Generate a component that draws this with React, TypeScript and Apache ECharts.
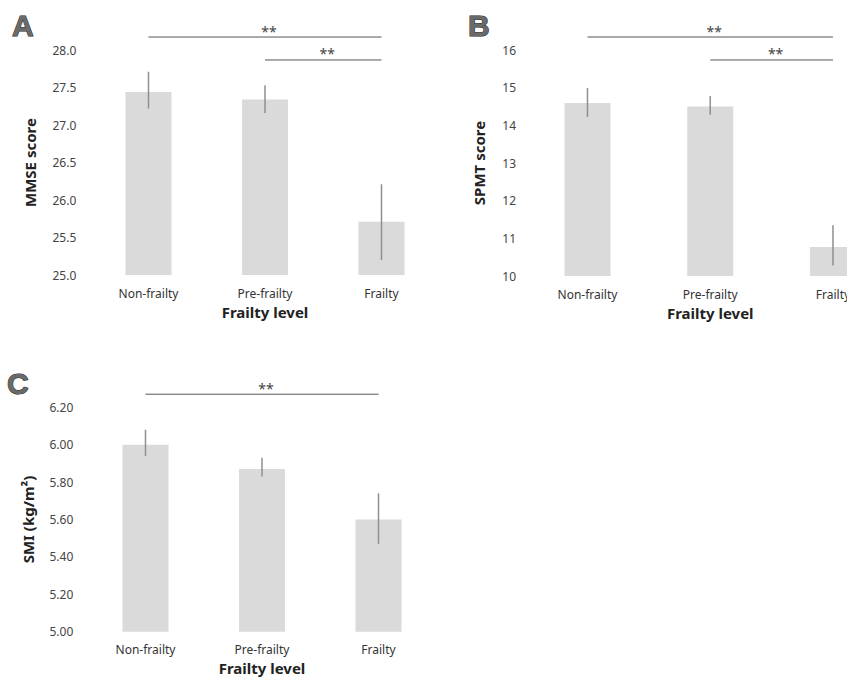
import React, { useEffect, useRef } from "react";
import * as echarts from "echarts";

const categories = ["Non-frailty", "Pre-frailty", "Frailty"];

const mmseMean = [27.44, 27.34, 25.71];
const mmseLow = [27.22, 27.16, 25.2];
const mmseHigh = [27.71, 27.53, 26.21];

const spmtMean = [14.59, 14.5, 10.77];
const spmtLow = [14.22, 14.28, 10.28];
const spmtHigh = [14.99, 14.78, 11.35];

const smiMean = [6.0, 5.87, 5.6];
const smiLow = [5.94, 5.83, 5.47];
const smiHigh = [6.08, 5.93, 5.74];

// significance brackets: [fromCategoryIndex, toCategoryIndex, yLevel]
const mmseSig = [
  [0, 2, 28.173],
  [1, 2, 27.867],
];
const spmtSig = [
  [0, 2, 16.345],
  [1, 2, 15.735],
];
const smiSig = [[0, 2, 6.27]];

const panelLetters = ["A", "B", "C"];
const yNames = ["MMSE score", "SPMT score", "SMI (kg/m\u00B2)"];
const xName = "Frailty level";

const SANS = "'Noto Sans', 'Open Sans', sans-serif";

function errorSeries(idx: number, low: number[], high: number[]) {
  return {
    type: "custom",
    xAxisIndex: idx,
    yAxisIndex: idx,
    silent: true,
    z: 5,
    data: low.map((l, i) => [i, l, high[i]]),
    renderItem: (_p: any, api: any) => {
      const a = api.coord([api.value(0), api.value(1)]);
      const b = api.coord([api.value(0), api.value(2)]);
      return {
        type: "line",
        shape: { x1: a[0], y1: a[1], x2: b[0], y2: b[1] },
        style: { stroke: "#8f8f8f", lineWidth: 1.5 },
      };
    },
  };
}

function sigSeries(idx: number, sig: number[][]) {
  return {
    type: "custom",
    xAxisIndex: idx,
    yAxisIndex: idx,
    silent: true,
    clip: false,
    z: 6,
    data: sig,
    renderItem: (_p: any, api: any) => {
      const a = api.coord([api.value(0), api.value(2)]);
      const b = api.coord([api.value(1), api.value(2)]);
      return {
        type: "group",
        children: [
          {
            type: "line",
            shape: { x1: a[0], y1: a[1], x2: b[0], y2: b[1] },
            style: { stroke: "#555", lineWidth: 1 },
          },
          {
            type: "text",
            x: (a[0] + b[0]) / 2 + 4,
            y: a[1] + 1,
            style: {
              text: "**",
              fontSize: 14,
              fontFamily: SANS,
              fill: "#444",
              align: "center",
              verticalAlign: "bottom",
            },
          },
        ],
      };
    },
  };
}

export default function App() {
  const ref = useRef<HTMLDivElement>(null);

  useEffect(() => {
    if (!ref.current) return;
    const chart = echarts.init(ref.current, undefined, { renderer: "svg" });

    const grids = [
      { left: 90.25, top: 50, width: 349.5, height: 225, outerBoundsMode: "none", containLabel: false },
      { left: 526.1, top: 50, width: 368.25, height: 226, outerBoundsMode: "none", containLabel: false },
      { left: 87.25, top: 407.3, width: 349.5, height: 224.4, outerBoundsMode: "none", containLabel: false },
    ];
    const yCfg = [
      { min: 25, max: 28, interval: 0.5, dec: 1, nameGap: 53 },
      { min: 10, max: 16, interval: 1, dec: 0, nameGap: 40 },
      { min: 5, max: 6.2, interval: 0.2, dec: 2, nameGap: 52 },
    ];
    const labelTop = [10, 10, 368];
    const labelX = [12, 468, 7];

    const option: any = {
      animation: false,
      backgroundColor: "#ffffff",
      title: panelLetters.map((t, i) => ({
        text: t,
        left: labelX[i],
        top: labelTop[i],
        padding: 0,
        textStyle: {
          fontSize: 30,
          fontWeight: "bold",
          fontFamily: "'Liberation Sans', Arial, sans-serif",
          color: "#6a6a6a",
          textBorderColor: "#222",
          textBorderWidth: 1,
        },
      })),
      grid: grids,
      xAxis: grids.map((_g, i) => ({
        type: "category",
        gridIndex: i,
        data: categories,
        axisLine: { show: false },
        axisTick: { show: false },
        splitLine: { show: false },
        axisLabel: {
          color: "#333",
          fontSize: 12,
          fontFamily: SANS,
          margin: 12,
        },
        name: xName,
        nameLocation: "middle",
        nameGap: 29,
        nameTextStyle: {
          fontSize: 15,
          fontWeight: "bold",
          color: "#222",
          fontFamily: SANS,
        },
      })),
      yAxis: yCfg.map((c, i) => ({
        type: "value",
        gridIndex: i,
        min: c.min,
        max: c.max,
        interval: c.interval,
        axisLine: { show: false },
        axisTick: { show: false },
        splitLine: { show: false },
        axisLabel: {
          color: "#444",
          fontSize: 12,
          fontFamily: SANS,
          margin: i === 1 ? 10 : 14,
          formatter: (v: number) => v.toFixed(c.dec),
        },
        name: yNames[i],
        nameLocation: "middle",
        nameGap: c.nameGap,
        nameTextStyle: {
          fontSize: 15,
          fontWeight: "bold",
          color: "#222",
          fontFamily: SANS,
        },
      })),
      series: [
        ...[mmseMean, spmtMean, smiMean].map((d, i) => ({
          type: "bar",
          xAxisIndex: i,
          yAxisIndex: i,
          data: d,
          barWidth: 46,
          silent: true,
          itemStyle: { color: "#dadada" },
        })),
        errorSeries(0, mmseLow, mmseHigh),
        errorSeries(1, spmtLow, spmtHigh),
        errorSeries(2, smiLow, smiHigh),
        sigSeries(0, mmseSig),
        sigSeries(1, spmtSig),
        sigSeries(2, smiSig),
      ],
    };

    chart.setOption(option);
    return () => chart.dispose();
  }, []);

  return (
    <div
      ref={ref}
      style={{ position: "absolute", left: 0, top: 0, width: 847, height: 677 }}
    />
  );
}
